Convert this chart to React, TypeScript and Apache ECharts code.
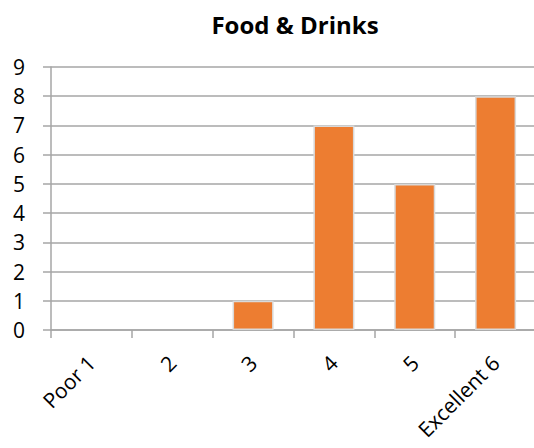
import React, { useEffect, useRef } from "react";
import * as echarts from "echarts";

const title = "Food & Drinks";
const categories = ["Poor 1", "2", "3", "4", "5", "Excellent 6"];
const values = [0, 0, 1, 7, 5, 8];
const yTicks = [0, 1, 2, 3, 4, 5, 6, 7, 8, 9];

export default function App() {
  const ref = useRef<HTMLDivElement>(null);
  useEffect(() => {
    if (!ref.current) return;
    const chart = echarts.init(ref.current, undefined, { renderer: "svg" });
    const font = "'Open Sans', 'Liberation Sans', sans-serif";
    chart.setOption({
      animation: false,
      backgroundColor: "#ffffff",
      title: {
        text: title,
        left: 290,
        textAlign: "center",
        top: 7,
        textStyle: { fontFamily: font, fontWeight: "bold", fontSize: 24, color: "#000" },
      },
      grid: {
        left: 51,
        top: 67,
        width: 485,
        height: 263,
        containLabel: false,
        outerBoundsMode: "none",
      },
      xAxis: {
        type: "category",
        data: categories,
        axisLine: { lineStyle: { color: "#a6a6a6", width: 1.5 } },
        axisTick: { show: true, length: 8, alignWithLabel: false, lineStyle: { color: "#a6a6a6", width: 1.5 } },
        axisLabel: {
          rotate: 45,
          interval: 0,
          margin: 29,
          fontFamily: font,
          fontSize: 21,
          color: "#000",
        },
      },
      yAxis: {
        type: "value",
        min: 0,
        max: yTicks[yTicks.length - 1],
        interval: 1,
        axisLine: { show: true, lineStyle: { color: "#a6a6a6", width: 1.5 } },
        axisTick: { show: true, length: 8, lineStyle: { color: "#a6a6a6", width: 1.5 } },
        axisLabel: { margin: 26, fontFamily: font, fontSize: 21, color: "#000" },
        splitLine: { show: true, lineStyle: { color: "#a6a6a6", width: 1.5 } },
      },
      series: [
        {
          type: "bar",
          data: values.map((v) => ({
            value: v,
            itemStyle: v === 0 ? { borderWidth: 0, opacity: 0 } : undefined,
          })),
          barWidth: 41,
          itemStyle: { color: "#ED7D31", borderColor: "#d9d9d9", borderWidth: 1.5 },
        },
      ],
    });
    return () => chart.dispose();
  }, []);
  return (
    <div
      ref={ref}
      style={{ position: "absolute", left: 0, top: 0, width: 534, height: 448 }}
    />
  );
}
